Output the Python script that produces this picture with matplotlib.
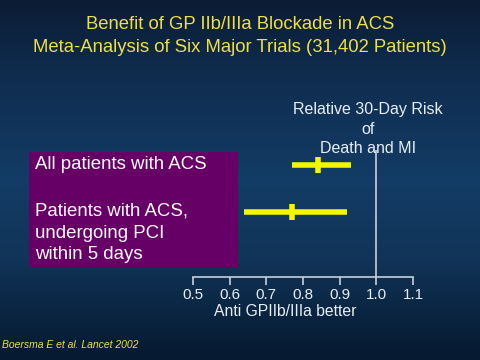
import numpy as np
import matplotlib
matplotlib.use("Agg")
import matplotlib.pyplot as plt
from matplotlib.colors import LinearSegmentedColormap
from matplotlib.patches import Rectangle

# Relative 30-day risk of death and MI, with 95% CI
groups = ["All patients with ACS", "Patients with ACS,\nundergoing PCI\nwithin 5 days"]
risk = [0.84, 0.77]
ci_low = [0.77, 0.64]
ci_high = [0.93, 0.92]
xticks = [0.5, 0.6, 0.7, 0.8, 0.9, 1.0, 1.1]

title = "Benefit of GP IIb/IIIa Blockade in ACS\nMeta-Analysis of Six Major Trials (31,402 Patients)"
yellow = "#efdf48"
bar_yellow = "#f5f500"
white = "#e8eef5"

fig = plt.figure(figsize=(4.8, 3.6), dpi=100)

# background gradient
bg = fig.add_axes([0, 0, 1, 1])
bg.set_axis_off()
cmap = LinearSegmentedColormap.from_list(
    "slide", [(0.0, "#0b1c33"), (0.2, "#0f2c4e"), (0.5, "#133c66"),
              (0.72, "#113458"), (0.88, "#0a2440"), (1.0, "#061a30")])
grad = np.linspace(0, 1, 256).reshape(-1, 1)
bg.imshow(grad, aspect="auto", cmap=cmap, extent=[0, 1, 0, 1], origin="upper")
bg.set_xlim(0, 1)
bg.set_ylim(0, 1)

fig.text(0.5, 1 - 36 / 360, title, ha="center", va="center", color=yellow,
         fontsize=13.3, linespacing=1.4, family="Liberation Sans")

# purple box with group labels
box = Rectangle((29 / 480, 1 - 267 / 360), 209 / 480, 115 / 360,
                transform=fig.transFigure, facecolor="#660066", edgecolor="none", zorder=1)
fig.patches.append(box)
fig.text(35 / 480, 1 - 165 / 360, groups[0], ha="left", va="center",
         color="white", fontsize=13.4, family="Liberation Sans")
fig.text(35 / 480, 1 - 233 / 360, groups[1], ha="left", va="center",
         color="white", fontsize=13.4, linespacing=1.36, family="Liberation Sans")

# forest plot axes
ax = fig.add_axes([193 / 480, 1 - 277 / 360, 220 / 480, 127 / 360])
ax.set_facecolor("none")
rows = np.arange(len(risk))
ax.hlines(rows, ci_low, ci_high, color=bar_yellow, lw=4, zorder=3)
ax.plot(risk, rows, ls="none", marker="|", ms=11, mew=4, color=bar_yellow, zorder=4)
ax.axvline(1.0, color="#c8d0dc", lw=1.2, zorder=2)

ax.set_xlim(0.5, 1.1)
ax.set_ylim(2.38, -0.32)
ax.set_xticks(xticks)
ax.set_xticklabels([f"{t:.1f}" for t in xticks], color=white, fontsize=11,
                   family="Liberation Sans")
ax.tick_params(axis="x", direction="out", length=6, width=1.2, colors="#c8d0dc",
               labelcolor=white, pad=2)
ax.set_yticks([])
for s in ["top", "left", "right"]:
    ax.spines[s].set_visible(False)
ax.spines["bottom"].set_color("#c8d0dc")
ax.spines["bottom"].set_linewidth(1.2)

fig.text(285 / 480, 1 - 312 / 360, "Anti GPIIb/IIIa better", ha="center", va="center",
         color=white, fontsize=11.3, family="Liberation Sans")

fig.text(368 / 480, 1 - 129 / 360, "Relative 30-Day Risk\nof\nDeath and MI",
         ha="center", va="center", color=white, fontsize=11.5, linespacing=1.4,
         family="Liberation Sans", zorder=1)

fig.text(2 / 480, 1 - 345 / 360, "Boersma E et al. Lancet 2002", ha="left",
         va="center", color=yellow, fontsize=7.5, style="italic",
         family="Liberation Sans")

fig.savefig("out.png", dpi=100)
